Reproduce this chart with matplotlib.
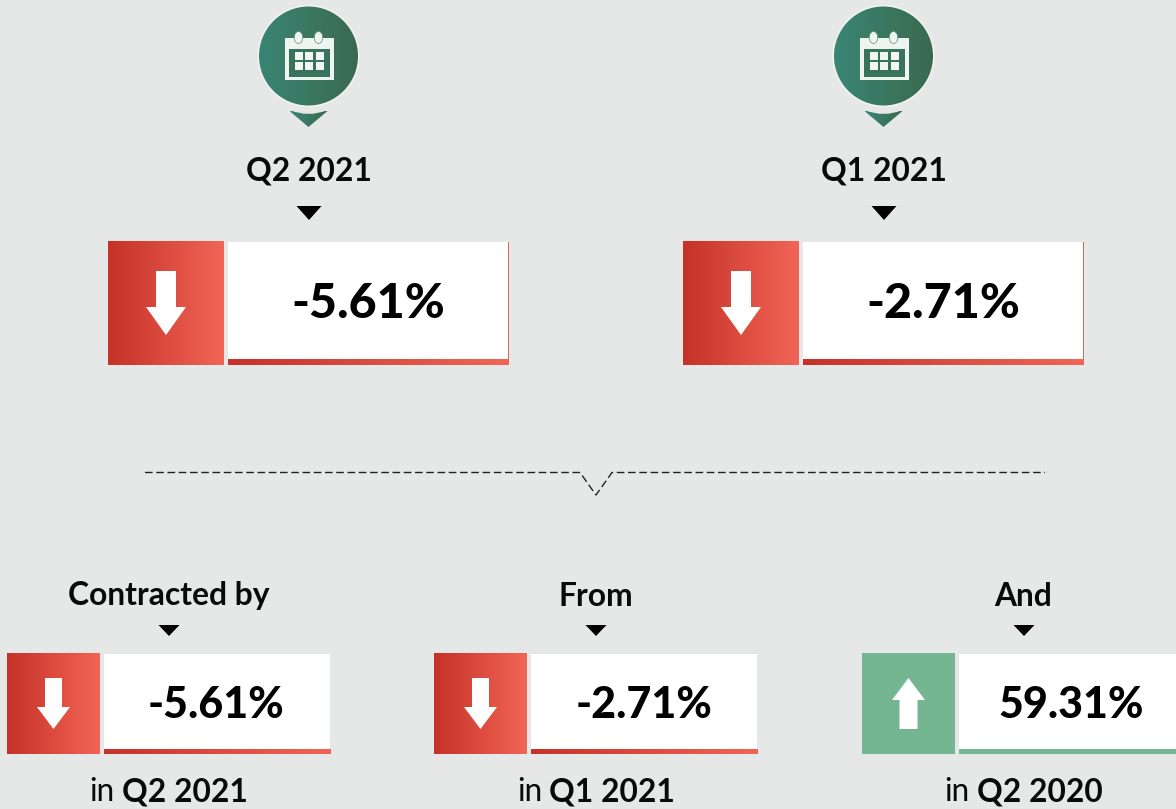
import numpy as np
import matplotlib
matplotlib.use("Agg")
import matplotlib.pyplot as plt
from matplotlib.colors import LinearSegmentedColormap
from matplotlib.patches import Circle, Ellipse, Polygon, Rectangle
from matplotlib.path import Path
from matplotlib.patches import PathPatch

top_periods = ["Q2 2021", "Q1 2021"]
top_values = [-5.61, -2.71]
bottom_heads = ["Contracted by", "From", "And"]
bottom_values = [-5.61, -2.71, 59.31]
bottom_periods = ["Q2 2021", "Q1 2021", "Q2 2020"]

BG = "#E6E8E7"
RED = LinearSegmentedColormap.from_list("r", ["#C63228", "#F16556"])
GREEN = LinearSegmentedColormap.from_list("g", ["#3A8575", "#3A6A4E"])
UP = "#74B592"
FONT = "Lato"

W, H = 1176, 809
fig = plt.figure(figsize=(W / 100, H / 100), dpi=100, facecolor=BG)
ax = fig.add_axes([0, 0, 1, 1])
ax.set_xlim(0, W)
ax.set_ylim(H, 0)
ax.axis("off")
GRAD = np.linspace(0, 1, 256).reshape(1, -1)


def grad(x0, y0, x1, y1, cmap, clip=None, z=2):
    im = ax.imshow(GRAD, extent=(x0, x1, y1, y0), cmap=cmap, aspect="auto", zorder=z, interpolation="bilinear")
    if clip is not None:
        im.set_clip_path(clip)
    return im


def rect(x0, y0, x1, y1, color, z=2):
    ax.add_patch(Rectangle((x0, y0), x1 - x0, y1 - y0, fc=color, ec="none", zorder=z))


def down_arrow(cx, top, neck, tip, sw, hw):
    ax.add_patch(Polygon([(cx - sw, top), (cx + sw, top), (cx + sw, neck), (cx + hw, neck),
                          (cx, tip), (cx - hw, neck), (cx - sw, neck)], fc="white", ec="none", zorder=4))


def up_arrow(cx, tip, neck, bottom, sw, hw):
    ax.add_patch(Polygon([(cx, tip), (cx + hw, neck), (cx + sw, neck), (cx + sw, bottom),
                          (cx - sw, bottom), (cx - sw, neck), (cx - hw, neck)], fc="white", ec="none", zorder=4))


def tri(cx, y0, y1, hw):
    ax.add_patch(Polygon([(cx - hw, y0), (cx + hw, y0), (cx, y1)], fc="black", ec="none", zorder=4))


def fmt(v):
    return f"{v:.2f}%"


def calendar(cx, cy):
    ax.add_patch(Circle((cx, cy), 51, fc="#F0F5F2", ec="none", zorder=2))
    c = Circle((cx, cy), 49.5, transform=ax.transData, fc="none", ec="none", zorder=3)
    ax.add_patch(c)
    grad(cx - 50, cy - 50, cx + 50, cy + 50, GREEN, clip=c, z=3)
    d = cx - 308
    y = cy - 56
    rect(284 + d, 38 + y, 333 + d, 80 + y, "#EEF4F0", 4)
    rect(288 + d, 49 + y, 329.5 + d, 77 + y, "#39735F", 5)
    for ex in (298, 318):
        ax.add_patch(Ellipse((ex + d, 37.5 + y), 8.5, 12, fc="#EEF4F0", ec="#5A8C7A", lw=0.5, zorder=6))
    for cy0 in (52, 62):
        for cx0 in (294, 304, 315):
            rect(cx0 + d, cy0 + y, cx0 + 8.5 + d, cy0 + 8 + y, "#F2F6F3", 6)
    # pointer below the pin
    verts = [(cx - 19, 111), (cx + 19, 111), (cx, 127), (cx - 19, 111)]
    p = Polygon(verts, fc="none", ec="none", zorder=3)
    ax.add_patch(p)
    grad(cx - 19, 111, cx + 19, 127, GREEN, clip=p, z=3)
    ax.add_patch(PathPatch(Path([(cx - 19, 110), (cx, 118), (cx + 19, 110), (cx + 19, 109), (cx - 19, 109), (cx - 19, 110)],
                                [Path.MOVETO, Path.CURVE3, Path.CURVE3, Path.LINETO, Path.LINETO, Path.CLOSEPOLY]),
                           fc=BG, ec="none", zorder=4))


# Upper cards
for i, (p, v) in enumerate(zip(top_periods, top_values)):
    d = 575 * i
    calendar(308.5 + d, 56)
    ax.text(308.5 + d, 171, p, ha="center", va="center", family=FONT, weight="bold", fontsize=22.9, color="#0A0A0A", zorder=5)
    tri(309 + d, 206, 220, 12.5)
    grad(108 + d, 241, 224 + d, 365, RED)
    rect(228 + d, 242, 508 + d, 359, "white")
    rect(508 + d, 242, 509 + d, 359, "#D5695E")
    grad(228 + d, 359, 509 + d, 365, RED)
    down_arrow(166 + d, 271, 307, 335, 10, 20)
    ax.text(368 + d, 304, fmt(v), ha="center", va="center", family=FONT, weight="black", fontsize=34.8, color="black", zorder=5)

# Divider
ax.plot([145, 580, 596, 612, 1045], [472.5, 472.5, 495, 472.5, 472.5], color="#222222", lw=1.0,
        dashes=(5.5, 2.6), zorder=3, solid_joinstyle="miter")

# Lower cards
fig.canvas.draw()
rend = fig.canvas.get_renderer()
for i, (h, v, p) in enumerate(zip(bottom_heads, bottom_values, bottom_periods)):
    d = int(427.5 * i)
    cx = 168.5 + 427.5 * i
    ax.text(cx, 596, h, ha="center", va="center", family=FONT, weight="bold", fontsize=22.9, color="#0A0A0A", zorder=5)
    tri(169 + d, 625, 636, 10.5)
    right = min(330 + d, W)
    rect(103.5 + d, 654, right, 749, "white")
    if v < 0:
        grad(7 + d, 653, 100 + d, 754, RED)
        grad(103.5 + d, 749, right, 754, RED)
        rect(103.5 + d, 654, 104.3 + d, 749, "#C63228", 3)
        down_arrow(53.5 + d, 678, 707, 729, 8.5, 16.5)
    else:
        rect(7 + d, 653, 100 + d, 754, UP)
        rect(104 + d, 749, right, 754, UP)
        up_arrow(53.5 + d, 678, 700, 729, 9, 16.5)
    ax.text(216.5 + 427.5 * i, 704.5, fmt(v), ha="center", va="center", family=FONT, weight="black", fontsize=31, color="black", zorder=5)
    a = ax.text(0, 792, "in", ha="left", va="center", family=FONT, weight="regular", fontsize=22.9, color="#0A0A0A", zorder=5)
    b = ax.text(0, 792, p, ha="left", va="center", family=FONT, weight="bold", fontsize=22.9, color="#0A0A0A", zorder=5)
    wa = 32
    wb = b.get_window_extent(rend).width
    start = cx - (wa + wb) / 2
    a.set_x(start)
    b.set_x(start + wa)

fig.savefig("out.png", dpi=100, facecolor=BG)
